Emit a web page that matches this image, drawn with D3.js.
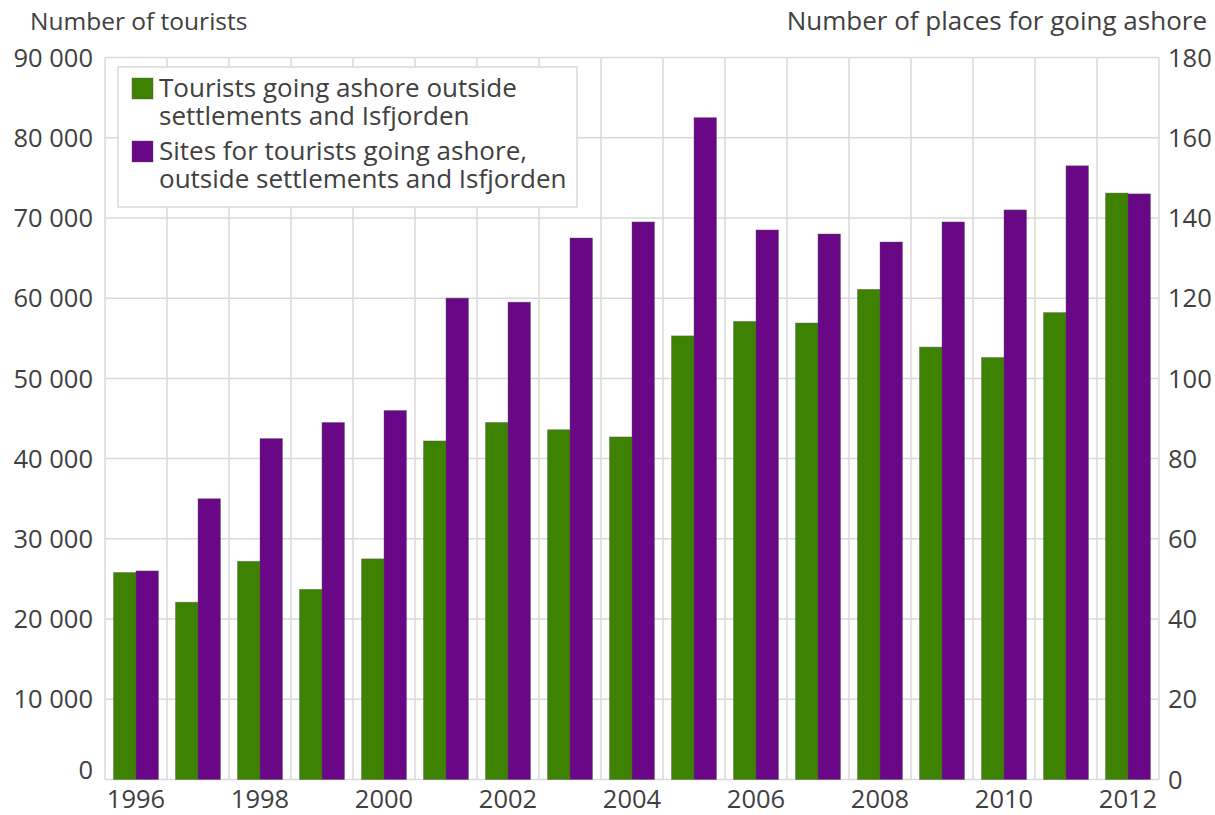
<!DOCTYPE html>
<html>
<head>
<meta charset="utf-8">
<script src="https://cdn.jsdelivr.net/npm/d3@7"></script>
<style>
  body { margin: 0; background: #fff; }
  text { font-family: "Open Sans", "Noto Sans", sans-serif; }
</style>
</head>
<body>
<svg id="chart" width="1215" height="815"></svg>
<script>
const years = ["1996","1997","1998","1999","2000","2001","2002","2003","2004","2005","2006","2007","2008","2009","2010","2011","2012"];
const tourists = [25800, 22100, 27200, 23700, 27500, 42200, 44500, 43600, 42700, 55300, 57100, 56900, 61100, 53900, 52600, 58200, 73100];
const sites = [52, 70, 85, 89, 92, 120, 119, 135, 139, 165, 137, 136, 134, 139, 142, 153, 146];
const leftTicks = [0, 10000, 20000, 30000, 40000, 50000, 60000, 70000, 80000, 90000];
const rightTicks = [0, 20, 40, 60, 80, 100, 120, 140, 160, 180];
const xTickLabels = ["1996","1998","2000","2002","2004","2006","2008","2010","2012"];
const seriesNames = ["Tourists going ashore outside|settlements and Isfjorden", "Sites for tourists going ashore,|outside settlements and Isfjorden"];
const colors = ["#3d8200", "#6a0786"];

const svg = d3.select("#chart");
const m = {left: 105, top: 57.5, right: 56, bottom: 35.5};
const W = 1215 - m.left - m.right, H = 815 - m.top - m.bottom;
const g = svg.append("g").attr("transform", `translate(${m.left},${m.top})`);

const x = d3.scaleBand().domain(years).range([0, W]).padding(0);
const x1 = d3.scaleBand().domain([0, 1]).range([0, x.bandwidth()]).paddingInner(0).paddingOuter(0.38);
const yL = d3.scaleLinear().domain([0, 90000]).range([H, 0]);
const yR = d3.scaleLinear().domain([0, 180]).range([H, 0]);

const gridColor = "#d9d9d9";
g.append("g").selectAll("line").data(leftTicks).join("line")
  .attr("x1", 0).attr("x2", W)
  .attr("y1", d => yL(d)).attr("y2", d => yL(d))
  .attr("stroke", gridColor).attr("stroke-width", 1.5);
g.append("g").selectAll("line").data(years.concat(["end"])).join("line")
  .attr("x1", (d, i) => i * x.step()).attr("x2", (d, i) => i * x.step())
  .attr("y1", 0).attr("y2", H)
  .attr("stroke", gridColor).attr("stroke-width", 1.5);

const barG = g.append("g");
barG.selectAll("rect.t").data(years).join("rect").attr("class", "t")
  .attr("x", d => x(d) + x1(0))
  .attr("width", x1.bandwidth())
  .attr("y", (d, i) => yL(tourists[i]))
  .attr("height", (d, i) => H - yL(tourists[i]))
  .attr("fill", colors[0]).attr("stroke", "#555").attr("stroke-opacity", 0.5).attr("stroke-width", 0.8);
barG.selectAll("rect.s").data(years).join("rect").attr("class", "s")
  .attr("x", d => x(d) + x1(1))
  .attr("width", x1.bandwidth())
  .attr("y", (d, i) => yR(sites[i]))
  .attr("height", (d, i) => H - yR(sites[i]))
  .attr("fill", colors[1]).attr("stroke", "#555").attr("stroke-opacity", 0.5).attr("stroke-width", 0.8);

const fmt = d => d3.format(",")(d).replace(/,/g, " ");
const textColor = "#404040";
const fs = "25.5px";

const axL = g.append("g").call(d3.axisLeft(yL).tickValues(leftTicks).tickSize(0).tickPadding(12).tickFormat(fmt));
axL.select(".domain").remove();
axL.selectAll("text").attr("fill", textColor).style("font-size", fs)
  .attr("dy", d => d === 0 ? "-0.05em" : "0.34em");
const axR = g.append("g").attr("transform", `translate(${W},0)`)
  .call(d3.axisRight(yR).tickValues(rightTicks).tickSize(0).tickPadding(9));
axR.select(".domain").remove();
axR.selectAll("text").attr("fill", textColor).style("font-size", fs).attr("dy", "0.34em");
const axB = g.append("g").attr("transform", `translate(0,${H})`)
  .call(d3.axisBottom(x).tickValues(xTickLabels).tickSize(0).tickPadding(10));
axB.select(".domain").remove();
axB.selectAll("text").attr("fill", textColor).style("font-size", fs);

svg.append("text").attr("x", 30).attr("y", 30).attr("fill", textColor).style("font-size", "24.5px").text("Number of tourists");
svg.append("text").attr("x", 1207).attr("y", 30).attr("text-anchor", "end").attr("fill", textColor).style("font-size", "26px").text("Number of places for going ashore");

const lg = svg.append("g").attr("transform", "translate(118,67)");
lg.append("rect").attr("width", 459).attr("height", 140).attr("fill", "#fff").attr("stroke", gridColor).attr("stroke-width", 1.5);
seriesNames.forEach((name, i) => {
  const yy = 11 + i * 63;
  lg.append("rect").attr("x", 14).attr("y", yy).attr("width", 21).attr("height", 21)
    .attr("fill", colors[i]).attr("stroke", "#555").attr("stroke-opacity", 0.5).attr("stroke-width", 0.8);
  const t = lg.append("text").attr("x", 41).attr("y", yy + 19).attr("fill", textColor).style("font-size", "26px");
  name.split("|").forEach((line, j) => {
    t.append("tspan").attr("x", 41).attr("dy", j === 0 ? 0 : 28).text(line);
  });
});
</script>
</body>
</html>
